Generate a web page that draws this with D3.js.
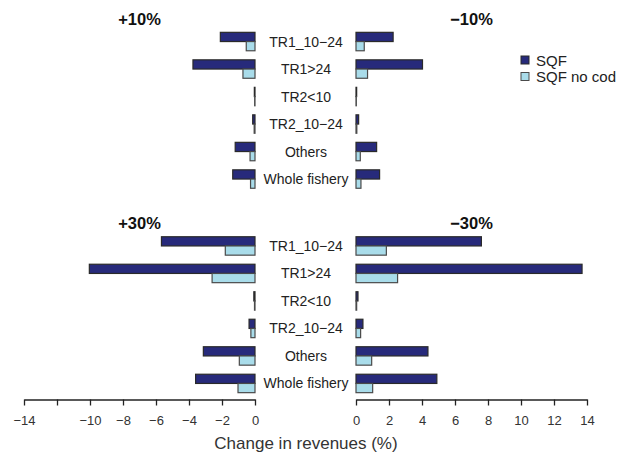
<!DOCTYPE html>
<html>
<head>
<meta charset="utf-8">
<script src="https://cdn.jsdelivr.net/npm/d3@7"></script>
<style>
  body { margin: 0; background: #fff; }
  svg { display: block; font-family: "Liberation Sans", Arial, sans-serif; }
</style>
</head>
<body>
<div id="chart"></div>
<script>
// categories (top to bottom)
const categories = ['TR1_10\u221224', 'TR1>24', 'TR2<10', 'TR2_10\u221224', 'Others', 'Whole fishery'];
const seriesNames = ['SQF', 'SQF no cod'];

// +10% (left, top panel)
const up10Sqf = [-2.1, -3.76, -0.04, -0.14, -1.2, -1.35];
const up10NoCod = [-0.53, -0.73, -0.02, -0.05, -0.3, -0.27];
// -10% (right, top panel)
const down10Sqf = [2.25, 4.03, 0.04, 0.16, 1.25, 1.43];
const down10NoCod = [0.5, 0.7, 0.02, 0.05, 0.26, 0.3];
// +30% (left, bottom panel)
const up30Sqf = [-5.67, -10.04, -0.07, -0.36, -3.13, -3.6];
const up30NoCod = [-1.8, -2.6, -0.03, -0.25, -0.95, -1.03];
// -30% (right, bottom panel)
const down30Sqf = [7.6, 13.7, 0.12, 0.42, 4.36, 4.9];
const down30NoCod = [1.84, 2.52, 0.04, 0.28, 0.95, 1.01];

const leftTicks = [-14, -12, -10, -8, -6, -4, -2, 0];
const rightTicks = [0, 2, 4, 6, 8, 10, 12, 14];

const width = 621;
const height = 455;
const colors = { sqf: '#272a7b', nocod: '#a9dcea' };
const strokes = { sqf: '#2a2a2a', nocod: '#4a4a4a' };

const svg = d3.select('#chart')
  .append('svg')
  .attr('width', width)
  .attr('height', height);

const xLeft = d3.scaleLinear().domain([-14, 0]).range([24, 255]);
const xRight = d3.scaleLinear().domain([0, 14]).range([356, 587]);
const labelX = 306;
const axisY = 399.5;

const panels = [
  { top: 27.8, leftTitle: '+10%', rightTitle: '\u221210%', left: [up10Sqf, up10NoCod], right: [down10Sqf, down10NoCod] },
  { top: 232.2, leftTitle: '+30%', rightTitle: '\u221230%', left: [up30Sqf, up30NoCod], right: [down30Sqf, down30NoCod] }
];

panels.forEach((p) => {
  const y = d3.scaleBand()
    .domain(categories)
    .range([p.top, p.top + 165])
    .paddingInner(0.33)
    .paddingOuter(0.165);
  const ySub = d3.scaleBand().domain(seriesNames).range([0, y.bandwidth()]);

  const g = svg.append('g');

  // bars, both sides
  [['left', xLeft, p.left], ['right', xRight, p.right]].forEach(([side, x, vals]) => {
    seriesNames.forEach((s, si) => {
      const key = si === 0 ? 'sqf' : 'nocod';
      g.selectAll(`.bar-${side}-${key}`)
        .data(vals[si].map((v, i) => ({ cat: categories[i], v })))
        .enter()
        .append('rect')
        .attr('x', (d) => Math.min(x(0), x(d.v)))
        .attr('y', (d) => y(d.cat) + ySub(s))
        .attr('width', (d) => Math.abs(x(d.v) - x(0)))
        .attr('height', ySub.bandwidth())
        .attr('fill', colors[key])
        .attr('stroke', strokes[key])
        .attr('stroke-width', 1.2);
    });
  });

  // category labels in the middle
  g.selectAll('.cat')
    .data(categories)
    .enter()
    .append('text')
    .attr('x', labelX)
    .attr('y', (d) => y(d) + y.bandwidth() / 2)
    .attr('text-anchor', 'middle')
    .attr('dominant-baseline', 'central')
    .attr('font-size', 14)
    .attr('fill', '#222')
    .text((d) => d);

  // panel titles
  g.append('text')
    .attr('x', (xLeft.range()[0] + xLeft.range()[1]) / 2)
    .attr('y', p.top - 3)
    .attr('text-anchor', 'middle')
    .attr('font-size', 16.5)
    .attr('font-weight', 'bold')
    .attr('fill', '#111')
    .text(p.leftTitle);

  g.append('text')
    .attr('x', (xRight.range()[0] + xRight.range()[1]) / 2)
    .attr('y', p.top - 3)
    .attr('text-anchor', 'middle')
    .attr('font-size', 16.5)
    .attr('font-weight', 'bold')
    .attr('fill', '#111')
    .text(p.rightTitle);
});

// axes
const fmt = d3.format('d');
const axL = svg.append('g')
  .attr('transform', `translate(0,${axisY})`)
  .call(d3.axisBottom(xLeft)
    .tickValues(leftTicks)
    .tickSize(6)
    .tickSizeOuter(0)
    .tickPadding(10)
    .tickFormat((d) => (d === -12 ? '' : fmt(d))));

const axR = svg.append('g')
  .attr('transform', `translate(0,${axisY})`)
  .call(d3.axisBottom(xRight)
    .tickValues(rightTicks)
    .tickSize(6)
    .tickSizeOuter(0)
    .tickPadding(10)
    .tickFormat(fmt));

[axL, axR].forEach((ax) => {
  ax.select('.domain').attr('stroke', '#222').attr('stroke-width', 1.3);
  ax.selectAll('.tick line').attr('stroke', '#222').attr('stroke-width', 1.3);
  ax.selectAll('.tick text')
    .attr('font-size', 13)
    .attr('font-family', '"Liberation Sans", Arial, sans-serif')
    .attr('fill', '#333');
});

svg.append('text')
  .attr('x', 306)
  .attr('y', 449)
  .attr('text-anchor', 'middle')
  .attr('font-size', 17)
  .attr('fill', '#333')
  .text('Change in revenues (%)');

// legend
const legend = svg.append('g').attr('transform', 'translate(521,56)');
seriesNames.forEach((s, i) => {
  const key = i === 0 ? 'sqf' : 'nocod';
  legend.append('rect')
    .attr('x', 0)
    .attr('y', i * 16.5)
    .attr('width', 8)
    .attr('height', 8)
    .attr('fill', colors[key])
    .attr('stroke', strokes[key])
    .attr('stroke-width', 1);
  legend.append('text')
    .attr('x', 15)
    .attr('y', i * 16.5 + 4)
    .attr('dominant-baseline', 'central')
    .attr('font-size', 15)
    .attr('fill', '#222')
    .text(s);
});
</script>
</body>
</html>
